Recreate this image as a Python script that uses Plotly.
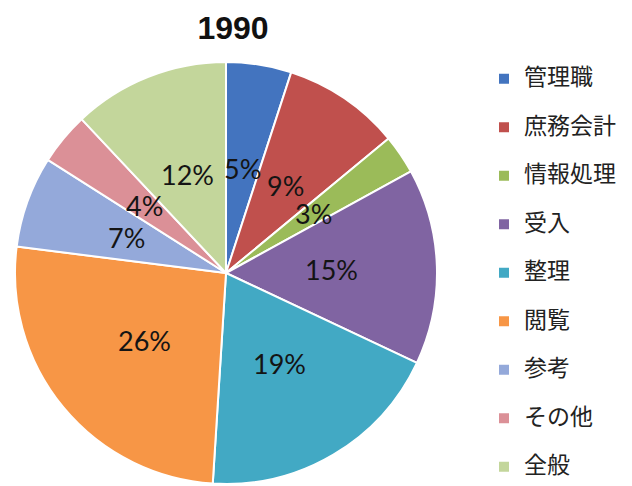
import math
import plotly.graph_objects as go

title_text = "1990"
categories = ["管理職", "庶務会計", "情報処理", "受入", "整理", "閲覧", "参考", "その他", "全般"]
values = [5, 9, 3, 15, 19, 26, 7, 4, 12]
colors = ["#4374BF", "#C0504D", "#9BBB59", "#8064A2", "#42A9C4", "#F79646", "#94A9DA", "#DB9097", "#C3D69B"]

W, H = 632, 486
CX, CY, R = 226, 273, 211      # pie centre / radius in px

legend_labels = [" <br><span style='font-size:23px'>" + c + "</span>" for c in categories]

fig = go.Figure(go.Pie(
    labels=legend_labels,
    values=values,
    sort=False,
    direction="clockwise",
    rotation=0,
    marker=dict(colors=colors, line=dict(color="white", width=2)),
    textinfo="none",
    hoverinfo="percent",
    domain=dict(x=[(CX - R) / W, (CX + R) / W],
                y=[1 - (CY + R) / H, 1 - (CY - R) / H]),
))

# percentage labels at half radius, mid-angle of each slice
total = sum(values)
cum = 0
for v in values:
    mid = (cum + v / 2) / total * 2 * math.pi
    cum += v
    px = CX + 0.5 * R * math.sin(mid)
    py = CY - 0.5 * R * math.cos(mid)
    fig.add_annotation(x=px / W, y=1 - py / H, xref="paper", yref="paper",
                       text=f"{round(v / total * 100)}%", showarrow=False,
                       xanchor="center", yanchor="middle",
                       font=dict(family="Lato, Carlito, sans-serif", size=27, color="#141414"))

fig.update_layout(
    width=W, height=H,
    margin=dict(l=0, r=0, t=0, b=0),
    paper_bgcolor="white",
    plot_bgcolor="white",
    title=dict(text="<b>" + title_text + "</b>", x=233 / W, xanchor="center", y=1 - 28 / H, yanchor="middle",
               font=dict(family="Liberation Sans, Arial, sans-serif", size=32, color="#111111")),
    legend=dict(x=484 / W, xanchor="left", y=1 - 38 / H, yanchor="top", valign="bottom",
                font=dict(family="Noto Sans CJK JP, sans-serif", size=17.5, color="#222222"),
                itemwidth=30, tracegroupgap=0),
)

fig.write_html("out.html", config={"displayModeBar": False},
               post_script="document.body.style.margin='0';")
